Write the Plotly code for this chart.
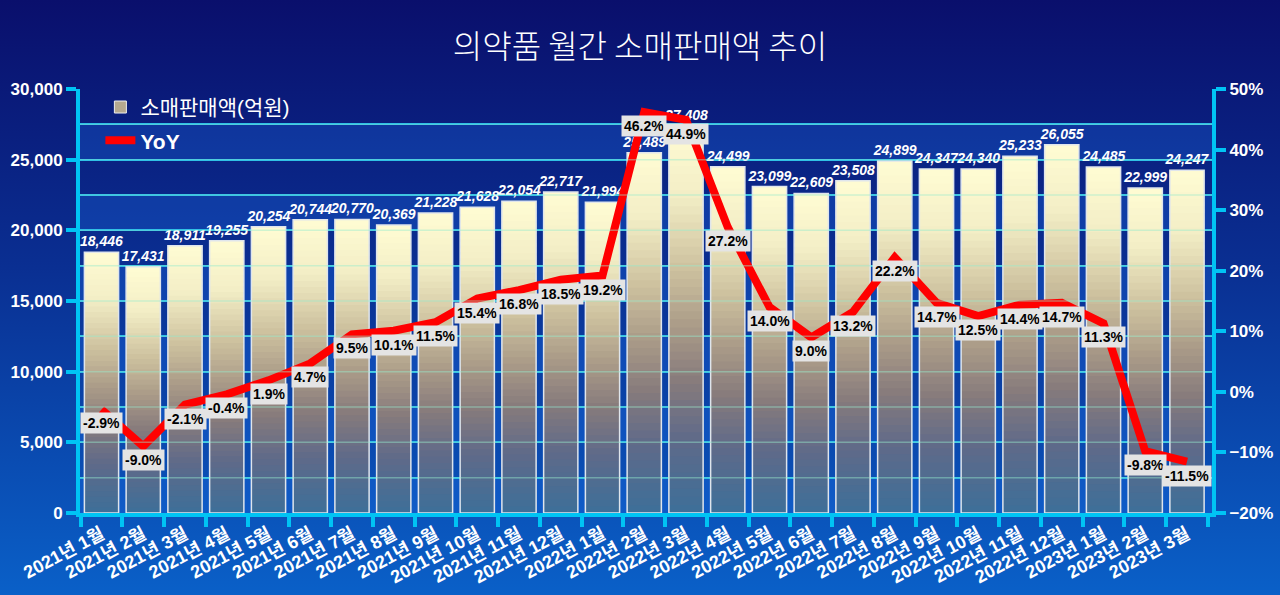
import base64
import plotly.graph_objects as go

# ---------------- data ----------------
months = ["2021년 1월", "2021년 2월", "2021년 3월", "2021년 4월", "2021년 5월", "2021년 6월",
          "2021년 7월", "2021년 8월", "2021년 9월", "2021년 10월", "2021년 11월", "2021년 12월",
          "2022년 1월", "2022년 2월", "2022년 3월", "2022년 4월", "2022년 5월", "2022년 6월",
          "2022년 7월", "2022년 8월", "2022년 9월", "2022년 10월", "2022년 11월", "2022년 12월",
          "2023년 1월", "2023년 2월", "2023년 3월"]
sales = [18446, 17431, 18911, 19255, 20254, 20744, 20770, 20369, 21228, 21628, 22054, 22717,
         21994, 25489, 27408, 24499, 23099, 22609, 23508, 24899, 24347, 24340, 25233, 26055,
         24485, 22999, 24247]
yoy = [-2.9, -9.0, -2.1, -0.4, 1.9, 4.7, 9.5, 10.1, 11.5, 15.4, 16.8, 18.5,
       19.2, 46.2, 44.9, 27.2, 14.0, 9.0, 13.2, 22.2, 14.7, 12.5, 14.4, 14.7,
       11.3, -9.8, -11.5]

title_text = "의약품 월간 소매판매액 추이"
bar_name = "소매판매액(억원)"
line_name = "YoY"

# ---------------- styling helpers ----------------
W, H = 1280, 595
ML, MR, MT, MB = 80, 68, 89, 82
PW, PH = W - ML - MR, H - MT - MB

# gradient of the bars, fraction measured from the top of each bar
grad_stops = [(0.0, "#fffcd3"), (0.18, "#f3eec6"), (0.37, "#cdc19e"), (0.52, "#aa9b88"),
              (0.66, "#877b7c"), (0.81, "#5f6a89"), (1.0, "#3d6f99")]


def hex2rgb(h):
    h = h.lstrip("#")
    return tuple(int(h[i:i + 2], 16) for i in (0, 2, 4))


def grad_color(t):
    for (t0, c0), (t1, c1) in zip(grad_stops[:-1], grad_stops[1:]):
        if t0 <= t <= t1:
            f = (t - t0) / (t1 - t0) if t1 > t0 else 0
            a, b = hex2rgb(c0), hex2rgb(c1)
            return "rgb(%d,%d,%d)" % tuple(round(a[k] + (b[k] - a[k]) * f) for k in range(3))
    return grad_stops[-1][1]


fig = go.Figure()

# gradient bars made from stacked, slightly overlapping slices of each bar
N = 48
for i in range(N):
    t = 1 - (i + 0.5) / N
    col = grad_color(t)
    extra = 0.012 if i < N - 1 else 0.0
    fig.add_trace(go.Bar(
        x=months, y=[v / N + v * extra for v in sales],
        base=[v * i / N for v in sales],
        marker=dict(color=col, line=dict(width=0)),
        showlegend=False, hoverinfo="skip", yaxis="y"))

# outline + value labels
fig.add_trace(go.Bar(
    x=months, y=sales, base=[0] * len(sales),
    marker=dict(color="rgba(0,0,0,0)", line=dict(color="#dfe5ec", width=1.5)),
    text=sales, texttemplate="<b><i>%{y:,.0f}</i></b>", textposition="outside",
    constraintext="none",
    textfont=dict(family="Liberation Sans, Arial", size=14, color="white"),
    cliponaxis=False, showlegend=False, yaxis="y"))

# legend dummy for bars
fig.add_trace(go.Bar(
    x=[months[0]], y=[None], name=bar_name, legendgroup="a",
    marker=dict(color="#b5a88f", line=dict(color="#eeeeee", width=1)), yaxis="y"))

# YoY line
fig.add_trace(go.Scatter(
    x=months, y=yoy, name="<b>" + line_name + "</b>", mode="lines", legendgroup="b",
    line=dict(color="#ff0000", width=8), yaxis="y2", cliponaxis=False))

# YoY labels
for m, v in zip(months, yoy):
    fig.add_annotation(
        x=m, y=v, xref="x", yref="y2", text="<b>%.1f%%</b>" % v, showarrow=False,
        yshift=-14, font=dict(family="Liberation Sans, Arial", size=14, color="black"),
        bgcolor="#e4e4e4", borderpad=2)

# alternating bands and translucent grid over the bars
shapes = []
for k in range(12):
    if k % 2 == 0:
        shapes.append(dict(type="rect", xref="paper", yref="y", x0=0, x1=1,
                           y0=k * 2500, y1=(k + 1) * 2500, layer="below",
                           fillcolor="rgba(30,110,230,0.30)", line=dict(width=0)))
for k in range(1, 12):
    shapes.append(dict(type="line", xref="paper", yref="y", x0=0, x1=1,
                       y0=k * 2500, y1=k * 2500, layer="above",
                       line=dict(color="rgba(150,235,205,0.45)", width=1.5)))

# page gradient background (svg image)
svg = ('<svg xmlns="http://www.w3.org/2000/svg" width="1280" height="595">'
       '<defs><linearGradient id="g" x1="0" y1="0" x2="0" y2="1">'
       '<stop offset="0" stop-color="#0a0f6c"/>'
       '<stop offset="0.45" stop-color="#0a2f92"/>'
       '<stop offset="1" stop-color="#0a60c8"/>'
       '</linearGradient></defs><rect width="1280" height="595" fill="url(#g)"/></svg>')
src = "data:image/svg+xml;base64," + base64.b64encode(svg.encode()).decode()

axis_col = "#00c4f4"
tick_font = dict(family="Liberation Sans, Noto Sans CJK KR", size=17, color="white", weight="bold")

fig.update_layout(
    width=W, height=H,
    margin=dict(l=ML, r=MR, t=MT, b=MB),
    barmode="overlay", bargap=0.18,
    paper_bgcolor="#0a3590", plot_bgcolor="rgba(0,0,0,0)",
    images=[dict(source=src, xref="paper", yref="paper", x=-ML / PW, y=1 + MT / PH,
                 sizex=W / PW, sizey=H / PH, sizing="stretch", xanchor="left",
                 yanchor="top", layer="below")],
    shapes=shapes,
    title=dict(text=title_text, x=0.5, xanchor="center", y=1 - 47 / H, yanchor="middle",
               font=dict(family="Noto Sans CJK KR", size=32, color="white", weight=300)),
    legend=dict(x=0.018, y=1.005, xanchor="left", yanchor="top", bgcolor="rgba(0,0,0,0)",
                font=dict(family="Liberation Sans, Noto Sans CJK KR", size=21, color="white"),
                traceorder="grouped", tracegroupgap=3, itemwidth=30),
    xaxis=dict(type="category", tickson="boundaries", ticks="outside", ticklen=10,
               tickwidth=4, tickcolor=axis_col, showline=True, linecolor=axis_col,
               linewidth=4, tickangle=-28, showgrid=False, automargin=False,
               tickfont=dict(family="Liberation Sans, Noto Sans CJK KR", size=18,
                             color="white", weight="bold")),
    yaxis=dict(range=[0, 30000], dtick=5000, tickformat=",", ticks="outside", ticklen=10,
               tickwidth=4, tickcolor=axis_col, showline=True, linecolor=axis_col,
               linewidth=4, showgrid=True, gridcolor="#14b4ec", gridwidth=1.5,
               zeroline=False, tickfont=tick_font, automargin=False,
               minor=dict(dtick=2500, showgrid=True, gridcolor="#14b4ec", gridwidth=1.5)),
    yaxis2=dict(range=[-20, 50], dtick=10, ticksuffix="%", overlaying="y", side="right",
                ticks="outside", ticklen=10, tickwidth=4, tickcolor=axis_col,
                showline=True, linecolor=axis_col, linewidth=4, showgrid=False,
                zeroline=False, tickfont=tick_font, automargin=False),
)

fig.write_html("out.html", config={"displayModeBar": False},
               post_script="document.body.style.margin='0px';document.body.style.padding='0px';")
